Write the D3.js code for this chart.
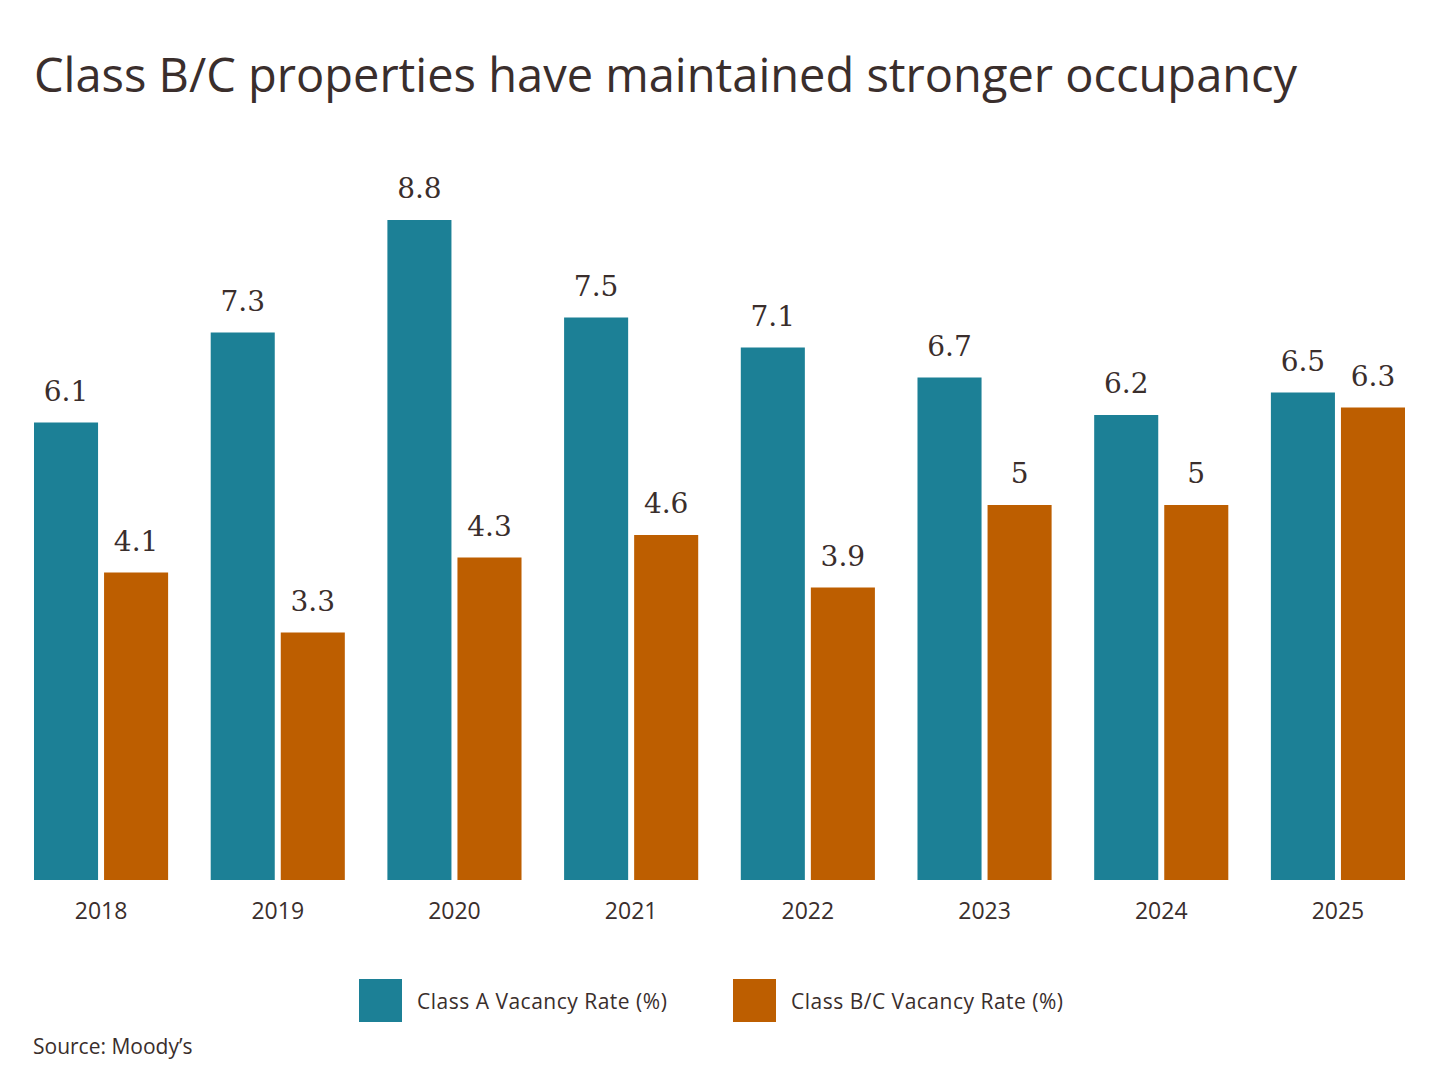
<!DOCTYPE html><html><head><meta charset="utf-8">
<script src="https://cdn.jsdelivr.net/npm/d3@7"></script>
<style>body{margin:0;background:#fff}</style></head><body>
<svg id="c" width="1441" height="1076"></svg>
<script>
const years=["2018","2019","2020","2021","2022","2023","2024","2025"];
const classA=[6.1,7.3,8.8,7.5,7.1,6.7,6.2,6.5];
const classBC=[4.1,3.3,4.3,4.6,3.9,5,5,6.3];
const seriesNames=["Class A Vacancy Rate (%)","Class B/C Vacancy Rate (%)"];
const colors=["#1c8096","#bd5e00"];
const svg=d3.select("#c");
const ink="#3a2e2c";
svg.append("text").attr("x",34).attr("y",92).attr("font-family","Open Sans, sans-serif").attr("font-size",47).attr("fill",ink).text("Class B/C properties have maintained stronger occupancy");
const x=d3.scaleBand().domain(years).range([34,1405]).paddingInner(0.241).paddingOuter(0);
const xs=d3.scaleBand().domain([0,1]).range([0,x.bandwidth()]).paddingInner(0.0857);
const y=d3.scaleLinear().domain([0,8.8]).range([880,220]);
const data=years.flatMap((yr,i)=>[[yr,0,classA[i]],[yr,1,classBC[i]]]);
svg.selectAll("rect.b").data(data).join("rect").attr("x",d=>x(d[0])+xs(d[1])).attr("width",xs.bandwidth())
 .attr("y",d=>y(d[2])).attr("height",d=>880-y(d[2])).attr("fill",d=>colors[d[1]]);
svg.selectAll("text.v").data(data).join("text").attr("x",d=>x(d[0])+xs(d[1])+xs.bandwidth()/2).attr("y",d=>y(d[2])-22)
 .attr("text-anchor","middle").attr("font-family","DejaVu Serif, serif").attr("font-size",28).attr("fill",ink).text(d=>d[2]);
const ax=svg.append("g").attr("transform","translate(0,880)").call(d3.axisBottom(x).tickSize(0).tickPadding(23));
ax.select(".domain").remove();
ax.selectAll("text").attr("font-family","Open Sans, sans-serif").attr("font-size",23).attr("fill",ink);
const lx=[359,733];
seriesNames.forEach((n,i)=>{
 svg.append("rect").attr("x",lx[i]).attr("y",979).attr("width",43).attr("height",43).attr("fill",colors[i]);
 svg.append("text").attr("x",lx[i]+58).attr("y",1009).attr("font-family","Open Sans, sans-serif").attr("font-size",21).attr("fill",ink).attr("letter-spacing",0.5).text(n);
});
svg.append("text").attr("x",33).attr("y",1054).attr("font-family","Open Sans, sans-serif").attr("font-size",21).attr("fill",ink).text("Source: Moody’s");
</script></body></html>
